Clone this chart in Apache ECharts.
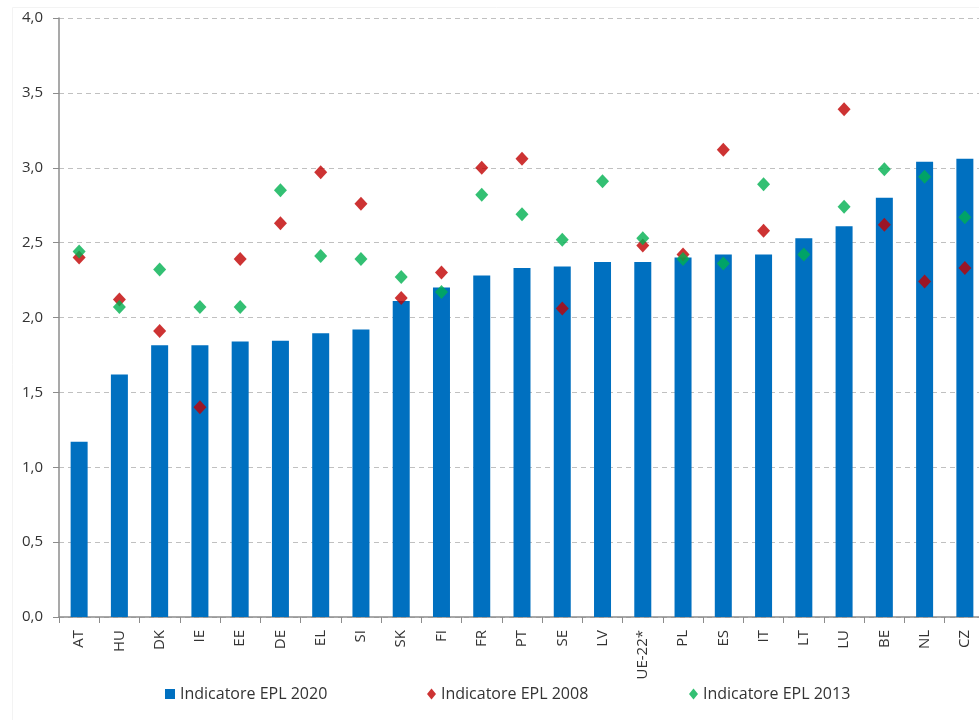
<!DOCTYPE html>
<html>
<head>
<meta charset="utf-8">
<script src="https://cdn.jsdelivr.net/npm/echarts@6/dist/echarts.min.js"></script>
<style>
html,body{margin:0;padding:0;background:#fff;}
#chart{width:979px;height:720px;}
</style>
</head>
<body>
<div id="chart"></div>
<script>
const categories = ["AT","HU","DK","IE","EE","DE","EL","SI","SK","FI","FR","PT","SE","LV","UE-22*","PL","ES","IT","LT","LU","BE","NL","CZ"];
const epl2020 = [1.17,1.62,1.815,1.815,1.84,1.845,1.895,1.92,2.11,2.20,2.28,2.33,2.34,2.37,2.37,2.40,2.42,2.42,2.53,2.61,2.80,3.04,3.06];
const epl2008 = [2.40,2.12,1.91,1.40,2.39,2.63,2.97,2.76,2.13,2.30,3.00,3.06,2.06,null,2.48,2.42,3.12,2.58,null,3.39,2.62,2.24,2.33];
const epl2013 = [2.44,2.07,2.32,2.07,2.07,2.85,2.41,2.39,2.27,2.17,2.82,2.69,2.52,2.91,2.53,2.39,2.36,2.89,2.42,2.74,2.99,2.94,2.67];
const yTicks = {min:0, max:4, interval:0.5};
const seriesNames = ["Indicatore EPL 2020","Indicatore EPL 2008","Indicatore EPL 2013"];

const FONT = "Open Sans";
const chart = echarts.init(document.getElementById('chart'), null, {renderer:'canvas'});
const legendText = {fontFamily:FONT, fontSize:16, color:'#333'};
chart.setOption({
  animation:false,
  textStyle:{fontFamily:FONT},
  graphic:[{type:'rect', left:10, top:5, shape:{width:980, height:720}, style:{fill:'none', stroke:'#f3f3f3', lineWidth:1}, silent:true, z:-10}],
  grid:{left:59, top:18, height:599, width:926, outerBoundsMode:'none', containLabel:false},
  legend:[
    {data:[{name:seriesNames[0], icon:'rect'}], left:160, top:681, itemWidth:10, itemHeight:10, itemGap:5, textStyle:legendText, selectedMode:false},
    {data:[{name:seriesNames[1], icon:'diamond'}], left:422, top:681, itemWidth:9, itemHeight:11, itemGap:5, textStyle:legendText, selectedMode:false},
    {data:[{name:seriesNames[2], icon:'diamond'}], left:684, top:681, itemWidth:9, itemHeight:11, itemGap:5, textStyle:legendText, selectedMode:false}
  ],
  xAxis:{
    type:'category', data:categories, boundaryGap:true,
    axisLine:{lineStyle:{color:'#8c8c8c', width:1.5}},
    axisTick:{show:true, alignWithLabel:false, length:6, lineStyle:{color:'#8c8c8c'}},
    axisLabel:{rotate:90, interval:0, fontFamily:FONT, fontSize:15, color:'#333', margin:13}
  },
  yAxis:{
    type:'value', min:yTicks.min, max:yTicks.max, interval:yTicks.interval,
    axisLine:{show:true, lineStyle:{color:'#8c8c8c', width:1.5}},
    axisTick:{show:true, length:6, lineStyle:{color:'#8c8c8c'}},
    axisLabel:{fontFamily:FONT, fontSize:15, color:'#333', margin:16,
      formatter:v=>v.toFixed(1).replace('.',',')},
    splitLine:{show:true, lineStyle:{color:'#c0c0c0', type:[5,4], width:1}}
  },
  series:[
    {name:seriesNames[0], type:'bar', data:epl2020, barWidth:17, itemStyle:{color:'#0070C0'}, z:1},
    {name:seriesNames[1], type:'scatter', data:epl2008, symbol:'diamond', symbolSize:[13,14], itemStyle:{color:'#C00000'}, z:3},
    {name:seriesNames[2], type:'scatter', data:epl2013, symbol:'diamond', symbolSize:[13,14], itemStyle:{color:'#00B050'}, z:4}
  ]
});
</script>
</body>
</html>
